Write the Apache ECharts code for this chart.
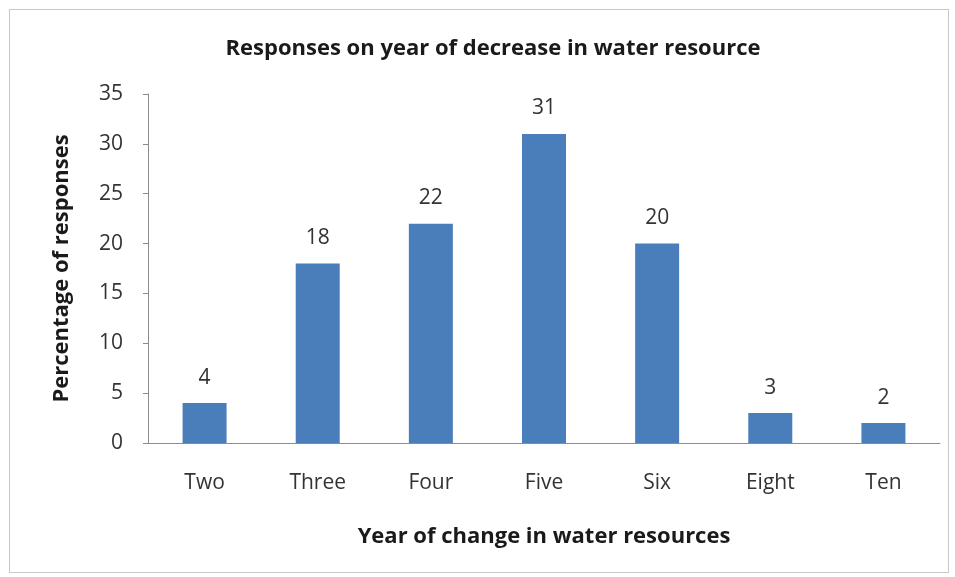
<!DOCTYPE html>
<html><head><meta charset="utf-8">
<script src="https://cdn.jsdelivr.net/npm/echarts@6/dist/echarts.min.js"></script>
<style>html,body{margin:0;padding:0;background:#fff;}#c{width:955px;height:577px;}
#frame{position:absolute;left:9px;top:9px;width:938px;height:562px;border:1px solid #c8c8c8;pointer-events:none;}</style>
</head><body>
<div id="c"></div><div id="frame"></div>
<script>
const categories = ["Two","Three","Four","Five","Six","Eight","Ten"];
const values = [4,18,22,31,20,3,2];
const yTicks = {min:0, max:35, interval:5};
const titleText = "Responses on year of decrease in water resource";
const xName = "Year of change in water resources";
const yName = "Percentage of responses";
const font = "'Open Sans', 'Liberation Sans', sans-serif";
const chart = echarts.init(document.getElementById('c'));
chart.setOption({
  animation:false,
  title:{text:titleText,left:488,top:33,textAlign:'center',textStyle:{fontFamily:font,fontSize:22,fontWeight:'bold',color:'#1a1a1a'}},
  grid:{left:148,right:15,top:94,bottom:134},
  xAxis:{type:'category',data:categories,
    name:xName,nameLocation:'middle',nameGap:83,
    nameTextStyle:{fontFamily:font,fontSize:22,fontWeight:'bold',color:'#1a1a1a'},
    axisLine:{lineStyle:{color:'#8c8c8c',width:1}},axisTick:{show:false},
    axisLabel:{fontFamily:font,fontSize:21,color:'#333',margin:30}},
  yAxis:{type:'value',min:yTicks.min,max:yTicks.max,interval:yTicks.interval,
    name:yName,nameLocation:'middle',nameGap:75,nameRotate:90,
    nameTextStyle:{fontFamily:font,fontSize:22,fontWeight:'bold',color:'#1a1a1a'},
    axisLine:{show:true,lineStyle:{color:'#8c8c8c',width:1}},
    axisTick:{show:true,inside:false,length:5,lineStyle:{color:'#8c8c8c'}},
    splitLine:{show:false},
    axisLabel:{fontFamily:font,fontSize:21,color:'#333',margin:25}},
  series:[{type:'bar',data:values,barWidth:44,itemStyle:{color:'#4a7ebb'},
    label:{show:true,position:'top',distance:15,fontFamily:font,fontSize:21,color:'#333'}}]
});
</script></body></html>
